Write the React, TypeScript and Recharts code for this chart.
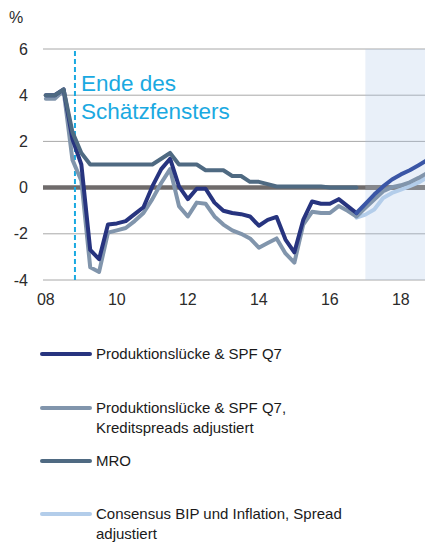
import React from 'react';
import {
  ComposedChart, Line, Area, XAxis, YAxis, CartesianGrid, ReferenceLine, Legend, Label,
} from 'recharts';

// Quarterly time axis (2008Q1 .. 2018Q4)
const quarters = [
  2008, 2008.25, 2008.5, 2008.75, 2009, 2009.25, 2009.5, 2009.75,
  2010, 2010.25, 2010.5, 2010.75, 2011, 2011.25, 2011.5, 2011.75,
  2012, 2012.25, 2012.5, 2012.75, 2013, 2013.25, 2013.5, 2013.75,
  2014, 2014.25, 2014.5, 2014.75, 2015, 2015.25, 2015.5, 2015.75,
  2016, 2016.25, 2016.5, 2016.75, 2017, 2017.25, 2017.5, 2017.75,
  2018, 2018.25, 2018.5, 2018.75,
];

// Produktionslücke & SPF Q7 (history)
const outputGap = [
  4.0, 4.0, 4.25, 2.1, 1.0, -2.7, -3.1, -1.6,
  -1.55, -1.45, -1.15, -0.85, 0.05, 0.8, 1.25, 0.05,
  -0.5, -0.05, -0.05, -0.65, -1.0, -1.1, -1.15, -1.25,
  -1.65, -1.4, -1.27, -2.25, -2.8, -1.4, -0.6, -0.7,
  -0.7, -0.5, -0.8, -1.1,
];
// Produktionslücke & SPF Q7 (projection, starts at 2016Q4)
const outputGapProj = [-1.1, -0.7, -0.3, 0.05, 0.35, 0.57, 0.75, 0.97, 1.2];

// Produktionslücke & SPF Q7, Kreditspreads adjustiert
const spreadAdj = [
  3.85, 3.85, 4.2, 1.2, 0.3, -3.45, -3.65, -1.95,
  -1.85, -1.75, -1.45, -1.1, -0.5, 0.2, 0.8, -0.8,
  -1.25, -0.65, -0.7, -1.25, -1.6, -1.85, -2.0, -2.2,
  -2.6, -2.4, -2.2, -2.85, -3.25, -1.6, -1.05, -1.1,
  -1.1, -0.8, -1.0, -1.25, -0.88, -0.52, -0.16, 0.02,
  0.1, 0.23, 0.42, 0.64,
];

// MRO
const mro = [
  4.0, 4.0, 4.25, 2.4, 1.5, 1.0, 1.0, 1.0,
  1.0, 1.0, 1.0, 1.0, 1.0, 1.25, 1.5, 1.0,
  1.0, 1.0, 0.75, 0.75, 0.75, 0.5, 0.5, 0.25,
  0.25, 0.15, 0.05, 0.05, 0.05, 0.05, 0.05, 0.05,
  0.0, 0.0, 0.0, 0.0,
];

// Consensus BIP und Inflation, Spread adjustiert (starts at 2016Q4)
const consensus = [-1.3, -1.17, -0.95, -0.45, -0.23, -0.09, 0.06, 0.22, 0.45];

const projStart = 35;
const xTicks = [2008, 2010, 2012, 2014, 2016, 2018];
const yTicks = [-4, -2, 0, 2, 4, 6];
const estimationEnd = 2008.82;
const forecastStart = 2017;
const xMin = 2007.92;
const xMax = 2018.68;
const yMin = -4;
const yMax = 6;

const legendItems = [
  { label: ['Produktionslücke & SPF Q7'], color: '#27347f' },
  { label: ['Produktionslücke & SPF Q7,', 'Kreditspreads adjustiert'], color: '#8195ac' },
  { label: ['MRO'], color: '#4f6a82' },
  { label: ['Consensus BIP und Inflation, Spread', 'adjustiert'], color: '#b3cdea' },
];
const legendTops = [354, 408, 461, 514];

const data = quarters.map((t, i) => ({
  t,
  shade: t >= forecastStart ? yMax : null,
  gap: i < outputGap.length ? outputGap[i] : null,
  gapProj: i >= projStart ? outputGapProj[i - projStart] : null,
  adj: spreadAdj[i] ?? null,
  mro: i < mro.length ? mro[i] : null,
  cons: i >= projStart ? consensus[i - projStart] : null,
}));

const FONT = '"Liberation Sans", Arial, sans-serif';

const LegendContent = () => (
  <div style={{ position: 'relative', width: 425, height: 220, fontFamily: FONT }}>
    {legendItems.map((it, k) => (
      <div key={k} style={{ position: 'absolute', left: 0, top: legendTops[k] - 330 - 10, width: 425 }}>
        <svg width={95} height={20} style={{ position: 'absolute', left: 0, top: 0 }}>
          <line x1={42} y1={10} x2={90} y2={10} stroke={it.color} strokeWidth={4} strokeLinecap="round" />
        </svg>
        <div style={{ position: 'absolute', left: 96, top: 0, fontSize: 15, lineHeight: '20px', color: '#1a1a1a', whiteSpace: 'nowrap' }}>
          {it.label.map((l, j) => (
            <div key={j}>{l}</div>
          ))}
        </div>
      </div>
    ))}
  </div>
);

const EstimationLabel = (props: any) => {
  const vb = props.viewBox || { x: 0 };
  const x = vb.x + 6;
  return (
    <text fill="#1aa9e1" fontSize={22.5} fontFamily={FONT}>
      <tspan x={x} y={91}>Ende des</tspan>
      <tspan x={x} y={119}>Schätzfensters</tspan>
    </text>
  );
};

const PercentLabel = () => (
  <text x={9} y={23} fontSize={16} fontFamily={FONT} fill="#2b2b2b">%</text>
);

export default function App() {
  return (
    <div style={{ position: 'absolute', left: 0, top: 0, width: 425, height: 546, background: '#fff' }}>
      <ComposedChart
        width={425}
        height={546}
        data={data}
        margin={{ top: 49, right: 0, bottom: 236, left: 0 }}
      >
        <CartesianGrid vertical={false} stroke="#a8a8a8" strokeWidth={1} />
        <XAxis
          dataKey="t"
          type="number"
          domain={[xMin, xMax]}
          allowDataOverflow
          ticks={xTicks}
          tickFormatter={(v: number) => String(v).slice(2)}
          axisLine={false}
          tickLine={false}
          tickSize={0}
          tickMargin={14}
          height={30}
          tick={{ fontSize: 16, fill: '#2b2b2b', fontFamily: FONT }}
        />
        <YAxis
          type="number"
          domain={[yMin, yMax]}
          ticks={yTicks}
          allowDataOverflow
          axisLine={false}
          tickLine={false}
          tickSize={0}
          tickMargin={15}
          width={43}
          tick={{ fontSize: 16, fill: '#2b2b2b', fontFamily: FONT }}
        >
          <Label content={<PercentLabel />} />
        </YAxis>
        <ReferenceLine y={0} stroke="#6f6b6b" strokeWidth={4.5} />
        <ReferenceLine
          segment={[{ x: forecastStart, y: 0 }, { x: xMax, y: 0 }]}
          stroke="#85878c"
          strokeWidth={4.5}
          ifOverflow="visible"
        />
        <Area
          dataKey="shade"
          baseValue={yMin}
          type="linear"
          stroke="none"
          fill="#a7c3e7"
          fillOpacity={0.25}
          isAnimationActive={false}
          dot={false}
          activeDot={false}
          legendType="none"
        />
        <ReferenceLine
          x={estimationEnd}
          stroke="#1aa9e1"
          strokeWidth={2}
          strokeDasharray="5 3"
          label={<EstimationLabel />}
        />
        <Line dataKey="cons" stroke="#b3cdea" strokeWidth={4} dot={false} isAnimationActive={false} strokeLinejoin="round" strokeLinecap="round" />
        <Line dataKey="adj" stroke="#8195ac" strokeWidth={4} dot={false} isAnimationActive={false} strokeLinejoin="round" strokeLinecap="round" />
        <Line dataKey="gap" stroke="#27347f" strokeWidth={4} dot={false} isAnimationActive={false} strokeLinejoin="round" strokeLinecap="round" />
        <Line dataKey="gapProj" stroke="#3a56a6" strokeWidth={4} dot={false} isAnimationActive={false} strokeLinejoin="round" strokeLinecap="round" />
        <Line dataKey="mro" stroke="#4f6a82" strokeWidth={4} dot={false} isAnimationActive={false} strokeLinejoin="round" strokeLinecap="round" />
        <Legend
          layout="vertical"
          verticalAlign="middle"
          align="center"
          content={<LegendContent />}
          wrapperStyle={{ position: 'absolute', left: 0, top: 330, width: 425, height: 220 }}
        />
      </ComposedChart>
    </div>
  );
}
